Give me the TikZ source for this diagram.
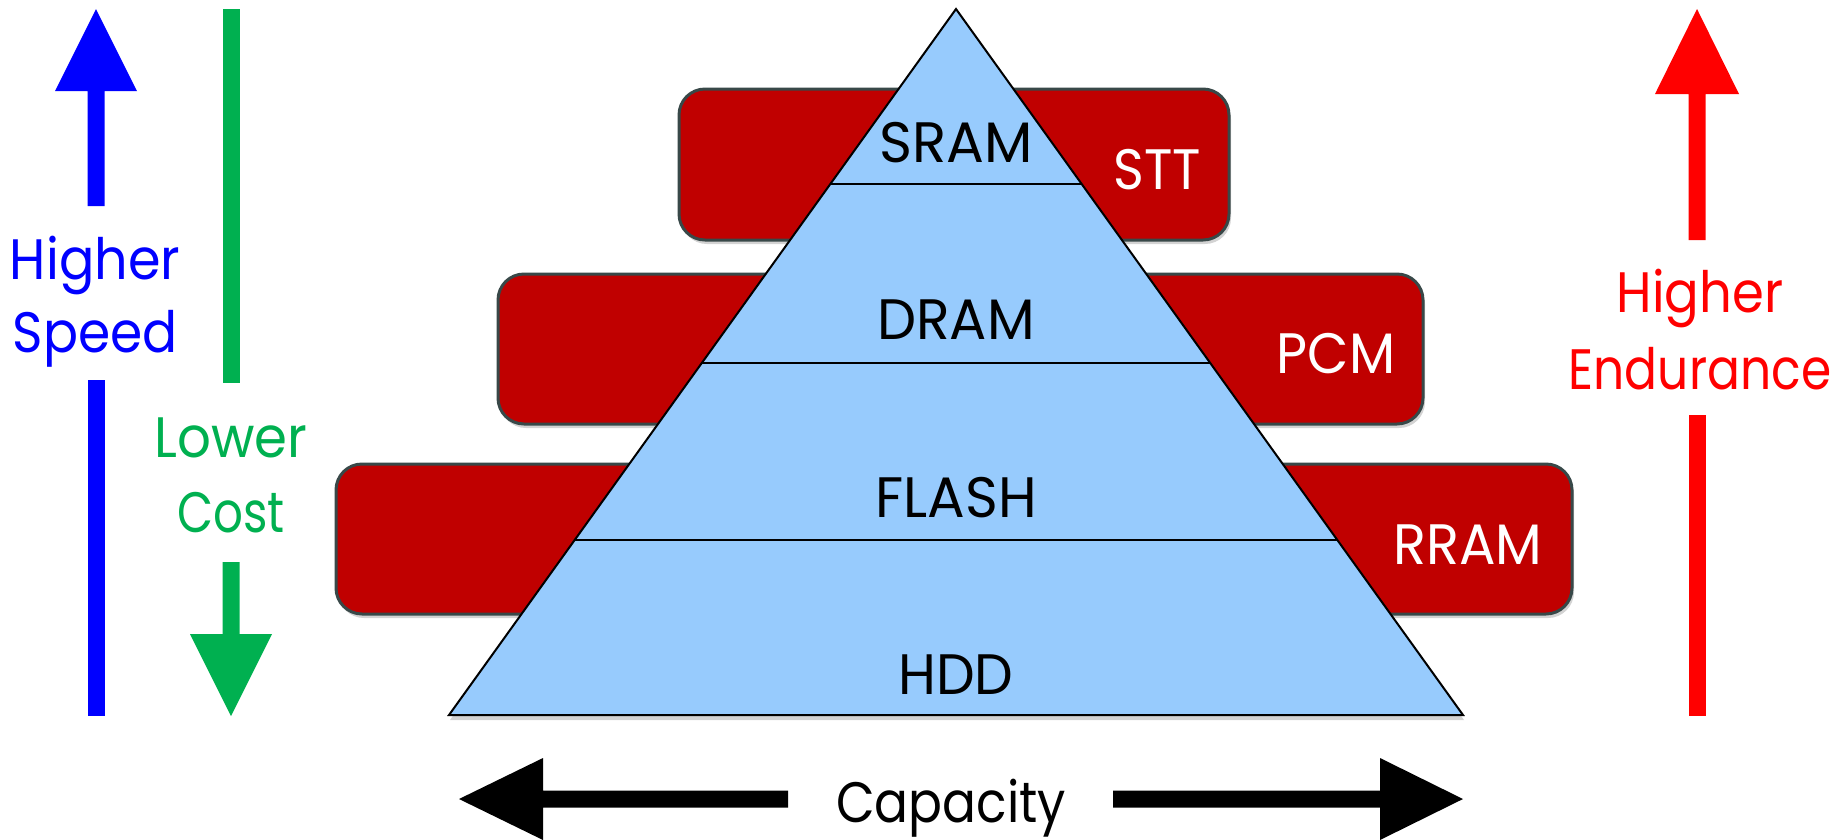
\documentclass[tikz,border=0pt]{standalone}
\usepackage{fontspec}
\setmainfont{Poppins}
\usetikzlibrary{shadows,calc}
\definecolor{boxred}{HTML}{C00000}
\definecolor{boxedge}{HTML}{384848}
\definecolor{trifill}{HTML}{97CBFD}
\definecolor{speedblue}{HTML}{0000FF}
\definecolor{costgreen}{HTML}{00B050}
\definecolor{endred}{HTML}{FF0000}
\newcommand\narrowtxt[2]{\scalebox{#1}[1]{#2}}
\tikzset{
  redbox/.style={draw=boxedge, line width=3pt, fill=boxred, rounded corners=26pt,
    drop shadow={shadow xshift=2pt, shadow yshift=-4pt, opacity=.35}, inner sep=0pt},
  tri/.style={draw=black, line width=2pt, fill=trifill, line join=miter,
    drop shadow={shadow xshift=1pt, shadow yshift=-5pt, opacity=.35}},
  tierline/.style={draw=black, line width=2pt},
  lbl/.style={font=\fontsize{57}{60}\selectfont, inner sep=0pt, anchor=base},
  tierlbl/.style={lbl, text=black},
  boxlbl/.style={lbl, text=white},
}
\begin{document}
\begin{tikzpicture}[x=1pt,y=-1pt]
\useasboundingbox (0,0) rectangle (1842,839);

% red boxes
\node[redbox, minimum width=550pt, minimum height=151pt] (sttbox) at (954,164.5) {};
\node[redbox, minimum width=925pt, minimum height=150pt] (pcmbox) at (960.5,349) {};
\node[redbox, minimum width=1236pt, minimum height=150pt] (rrambox) at (954,539) {};

% pyramid
\coordinate (apex) at (956,9);
\coordinate (bl) at (449,715);
\coordinate (br) at (1463,715);
\filldraw[tri] (apex) -- (br) -- (bl) -- cycle;
\draw[tierline] ($(apex)!0.2479!(bl)$) -- ($(apex)!0.2479!(br)$);
\draw[tierline] ($(apex)!0.5014!(bl)$) -- ($(apex)!0.5014!(br)$);
\draw[tierline] ($(apex)!0.7521!(bl)$) -- ($(apex)!0.7521!(br)$);

% tier labels
\node[tierlbl] (sram) at (956,162) {\narrowtxt{0.985}{SRAM}};
\node[tierlbl] (dram) at (956,339.5) {\narrowtxt{0.97}{DRAM}};
\node[tierlbl] (flash) at (956,517) {\narrowtxt{0.98}{FLASH}};
\node[tierlbl] (hdd) at (956,694) {\narrowtxt{0.96}{HDD}};
\node[boxlbl] (stt) at (1157,189) {\narrowtxt{0.92}{STT}};
\node[boxlbl] (pcm) at (1336,373.5) {\narrowtxt{0.94}{PCM}};
\node[boxlbl] (rram) at (1468,564) {\narrowtxt{0.95}{RRAM}};

% blue: higher speed
\fill[speedblue] (87.5,206) -- (87.5,91) -- (55,91) -- (96,9) -- (137,91) -- (104.5,91) -- (104.5,206) -- cycle;
\fill[speedblue] (87.5,380) rectangle (104.5,716);
\node[lbl, text=speedblue] (higher1) at (95,279.6) {\narrowtxt{0.92}{Higher}};
\node[lbl, text=speedblue] (speed) at (95,352) {\narrowtxt{0.91}{Speed}};

% green: lower cost
\fill[costgreen] (222.5,9) rectangle (239.5,383);
\fill[costgreen] (222.5,562) -- (222.5,634) -- (190,634) -- (231,716) -- (272,634) -- (239.5,634) -- (239.5,562) -- cycle;
\node[lbl, text=costgreen] (lower) at (231,457) {\narrowtxt{0.93}{Lower}};
\node[lbl, text=costgreen] (cost) at (231,532) {\narrowtxt{0.82}{Cost}};

% red: higher endurance
\fill[endred] (1688.5,240) -- (1688.5,94) -- (1655,94) -- (1697,9) -- (1739,94) -- (1705.5,94) -- (1705.5,240) -- cycle;
\fill[endred] (1688.5,415) rectangle (1705.5,716);
\node[lbl, text=endred] (higher2) at (1700,312.5) {\narrowtxt{0.90}{Higher}};
\node[lbl, text=endred] (endurance) at (1700,389) {\narrowtxt{0.855}{Endurance}};

% capacity
\fill[black] (788,790.5) -- (543,790.5) -- (543,758) -- (459,799) -- (543,840) -- (543,807.5) -- (788,807.5) -- cycle;
\fill[black] (1113,790.5) -- (1380,790.5) -- (1380,758) -- (1463,799) -- (1380,840) -- (1380,807.5) -- (1113,807.5) -- cycle;
\node[lbl, text=black] (capacity) at (951,822) {\narrowtxt{0.88}{Capacity}};
\end{tikzpicture}
\end{document}
